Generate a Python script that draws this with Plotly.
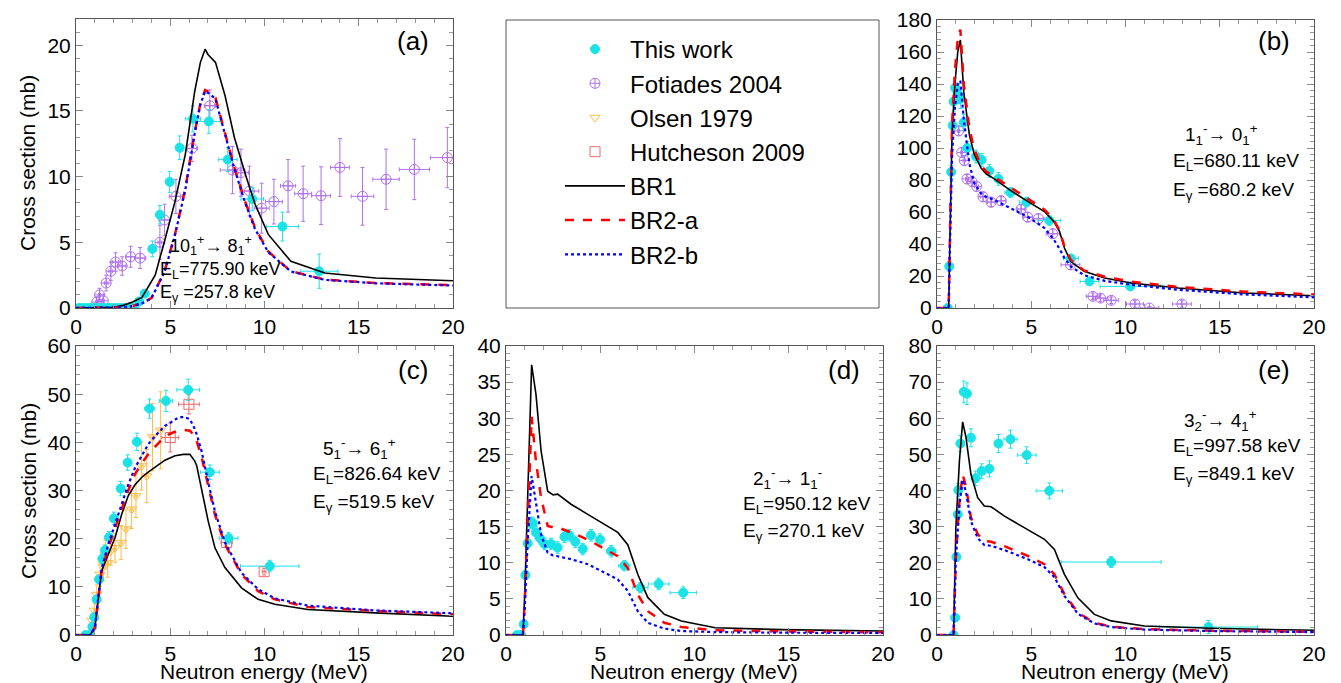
import plotly.graph_objects as go

W, H = 1341, 683

# ---------------- data ----------------
# Panel (a) 10+ -> 8+
a_tw_x = [0.15, 0.35, 0.55, 0.75, 0.95, 1.15, 1.35, 1.55, 1.75, 1.95, 2.15, 2.35, 2.55, 2.75, 2.95, 3.1,
          3.35, 3.65, 4.05, 4.45, 4.97, 5.5, 6.2, 7.05, 8.05, 9.35, 10.95, 12.9]
a_tw_y = [0, 0, 0, 0, 0, 0, 0, 0, 0, 0, 0, 0, 0, 0, 0, 0,
          0.5, 1.1, 4.5, 7.1, 9.6, 12.2, 14.4, 14.2, 11.3, 8.3, 6.2, 2.8]
a_tw_ey = [0.1, 0.1, 0.1, 0.1, 0.1, 0.1, 0.1, 0.1, 0.1, 0.1, 0.1, 0.1, 0.1, 0.1, 0.1, 0.1,
           0.3, 0.3, 0.6, 0.7, 0.8, 0.9, 1.0, 0.9, 0.9, 0.9, 1.1, 1.3]
a_tw_ex = [0.02, 0.02, 0.02, 0.02, 0.02, 0.02, 0.02, 0.02, 0.02, 0.02, 0.02, 0.02, 0.02, 0.02, 0.02, 0.02,
           0.05, 0.05, 0.08, 0.1, 0.12, 0.15, 0.4, 0.6, 0.5, 0.6, 0.85, 1.0]

a_fo_x = [1.1, 1.25, 1.45, 1.6, 1.85, 2.1, 2.45, 2.9, 3.4, 4.45, 4.7, 5.3, 6.15, 7.1, 8.3, 8.75, 9.2,
          9.85, 10.5, 11.25, 12.05, 13.0, 14.0, 15.2, 16.45, 17.95, 19.7]
a_fo_y = [0.45, 1.0, 0.55, 1.9, 2.8, 3.5, 3.2, 3.9, 3.8, 5.0, 6.7, 8.5, 12.15, 15.4, 10.5, 10.3, 8.9,
          7.6, 8.1, 9.3, 8.7, 8.55, 10.7, 8.5, 9.8, 10.55, 11.45]
a_fo_ey = [0.4, 0.5, 0.5, 0.6, 0.7, 0.7, 0.7, 0.8, 0.8, 1.3, 1.2, 1.3, 1.0, 1.2, 1.8, 1.8, 1.9,
           1.9, 1.7, 2.0, 2.1, 2.2, 2.2, 2.2, 2.3, 2.3, 2.3]
a_fo_ex = [0.05, 0.05, 0.05, 0.1, 0.1, 0.15, 0.2, 0.25, 0.3, 0.1, 0.3, 0.35, 0.3, 0.3, 0.65, 0.4, 0.5,
           0.4, 0.45, 0.4, 0.45, 0.5, 0.5, 0.6, 0.7, 0.8, 0.9]

a_br1_x = [0, 2.0, 2.5, 3.0, 3.5, 4.2, 4.7, 5.25, 5.8, 6.3, 6.6, 6.85, 7.0, 7.4, 7.9, 8.4, 9.0, 9.5,
           10.2, 11.4, 13.2, 15.9, 20]
a_br1_y = [0, 0.05, 0.2, 0.45, 0.8, 2.5, 5.1, 8.1, 11.7, 16.5, 18.7, 19.7, 19.3, 18.7, 16.2, 13.0, 10.1,
           7.9, 5.6, 3.55, 2.66, 2.28, 2.08]
a_br2_x = [0, 2.5, 3.0, 3.5, 4.0, 4.7, 5.25, 5.8, 6.3, 6.6, 6.85, 7.1, 7.4, 7.9, 8.4, 9.0, 9.5, 10.2,
           11.4, 13.2, 15.9, 20]
a_br2a_y = [0, 0.05, 0.15, 0.35, 0.76, 2.8, 5.6, 9.1, 13.4, 15.6, 16.6, 16.4, 16.0, 13.4, 10.7, 8.0, 6.1,
            4.3, 2.8, 2.16, 1.9, 1.73]
a_br2b_y = [0, 0.05, 0.15, 0.35, 0.74, 2.75, 5.55, 9.0, 13.3, 15.5, 16.5, 16.3, 15.9, 13.3, 10.6, 7.9, 6.0,
            4.25, 2.78, 2.14, 1.88, 1.71]

# Panel (b) 1- -> 0+
b_tw_x = [0.57, 0.65, 0.75, 0.83, 0.88, 0.96, 1.1, 1.24, 1.42, 1.6, 2.07, 2.37, 2.78, 3.26, 3.9, 4.76,
          5.96, 7.1, 8.09, 10.25]
b_tw_y = [0, 26, 85, 114, 129, 137.7, 134, 130.7, 116, 100, 94.7, 92.6, 85.7, 80.7, 72.2, 66.2,
          54.7, 31, 16.6, 13.5]
b_tw_ey = [1, 3, 4, 5, 6, 6, 6, 6, 5, 4, 4, 4, 4, 4, 3, 3, 3, 2, 1.5, 1.5]
b_tw_ex = [0.02, 0.02, 0.03, 0.03, 0.03, 0.04, 0.05, 0.05, 0.06, 0.08, 0.1, 0.1, 0.15, 0.2, 0.3, 0.4,
           0.6, 0.4, 0.5, 1.6]

b_fo_x = [1.15, 1.31, 1.45, 1.59, 1.86, 2.1, 2.44, 2.87, 3.4, 4.46, 4.81, 5.38, 6.14, 7.08, 8.27, 8.67,
          9.24, 10.5, 11.27, 12.99]
b_fo_y = [110.7, 97.2, 92.2, 80.7, 79, 76, 69.5, 66.2, 67, 61.8, 56.8, 55.8, 46.4, 27, 7.3, 6.2,
          4.8, 2.5, 0, 2.5]
b_fo_ey = [3, 3, 3, 3, 3, 3, 3, 3, 3, 3, 3, 3, 3, 3, 2, 2, 2, 2, 1, 2]
b_fo_ex = [0.05, 0.05, 0.07, 0.08, 0.1, 0.1, 0.15, 0.2, 0.25, 0.2, 0.25, 0.3, 0.35, 0.5, 0.35, 0.4,
           0.4, 0.45, 0.5, 0.5]

b_br_x = [0, 0.62, 0.68, 0.8, 0.95, 1.1, 1.24, 1.42, 1.72, 1.98, 2.34, 2.6, 3.04, 3.93, 4.81, 5.7,
          6.2, 6.5, 6.76, 7.1, 7.8, 8.9, 10.3, 12.8, 16.3, 20]
b_br1_y = [0, 0, 40, 110, 140, 160, 167.5, 135, 108, 96, 87.4, 83.9, 80.7, 73.2, 66.6, 60.3,
           54, 47.9, 37.5, 29, 22.9, 18.7, 15.6, 12.5, 9.4, 7.7]
b_br2a_y = [0, 0, 42, 115, 148, 168, 174, 140, 112, 99, 89, 85.5, 82, 75, 68, 61.5,
            55, 48.5, 38.5, 30, 23.5, 19.5, 16.5, 13.2, 10.2, 8.5]
b_br2b_y = [0, 0, 35, 95, 125, 140, 142, 118, 90, 78, 71.5, 69.5, 67.5, 62.4, 57, 50,
            42.7, 37, 31.2, 26, 20.5, 17, 14.5, 11.4, 8.5, 6.7]

# Panel (c) 5- -> 6+
c_tw_x = [0.51, 0.74, 0.87, 0.97, 1.1, 1.22, 1.4, 1.54, 1.75, 2.01, 2.37, 2.74, 3.23, 3.9, 4.77, 5.95,
          7.1, 8.1, 10.28]
c_tw_y = [0, 0, 1.7, 3.7, 7.4, 11.55, 15.85, 17.6, 20.3, 24.2, 30.4, 35.8, 40.1, 47, 48.6, 50.9,
          33.8, 20.1, 14.3]
c_tw_ey = [0.2, 0.2, 0.3, 0.4, 0.6, 0.8, 1.0, 1.1, 1.2, 1.3, 1.5, 1.6, 1.8, 2.0, 2.2, 2.2, 1.5, 1.2, 1.2]
c_tw_ex = [0.02, 0.02, 0.03, 0.03, 0.04, 0.05, 0.05, 0.06, 0.07, 0.08, 0.1, 0.12, 0.15, 0.25, 0.35, 0.6,
           0.5, 0.5, 1.55]

c_hu_x = [5.0, 5.99, 7.99, 9.98]
c_hu_y = [41.0, 47.9, 19.2, 13.15]
c_hu_ey = [3.0, 2.0, 1.0, 0.7]
c_hu_ex = [0.45, 0.55, 0.3, 0.1]

c_ol_x = [0.85, 0.97, 1.1, 1.27, 1.45, 1.55, 1.68, 1.85, 2.07, 2.39, 2.65, 2.95, 3.18, 3.48, 3.75,
          4.06, 4.49]
c_ol_y = [3.0, 5.1, 8.4, 12.6, 14.2, 16.7, 15.0, 17.5, 18.1, 19.2, 22, 26.1, 28.9, 35.1, 33, 41.1, 42.5]
c_ol_ey = [1, 1.5, 2, 2.5, 3, 3, 3, 3, 3, 3.5, 4, 4, 4.5, 5, 5.5, 7, 8]
c_ol_ex = [0.03, 0.03, 0.03, 0.04, 0.04, 0.04, 0.05, 0.05, 0.05, 0.06, 0.06, 0.07, 0.07, 0.08, 0.08,
           0.09, 0.1]

c_br_x = [0, 0.75, 1.0, 1.18, 1.36, 1.71, 2.07, 2.42, 2.77, 3.13, 3.48, 3.83, 4.36, 4.72, 5.25, 5.42,
          5.7, 6.04, 6.3, 6.4, 6.66, 6.84, 7.01, 7.37, 7.9, 8.78, 9.66, 10.55, 12.3, 15.85, 20]
c_br1_y = [0, 0, 1.5, 7.4, 13.3, 16.7, 20.2, 25, 28.9, 31.2, 32.7, 33.8, 35.4, 36.3, 37.2, 37.3,
           37.5, 37.5, 36.1, 35.2, 30.6, 27.0, 23.7, 18.1, 14.0, 9.8, 7.4, 6.4, 5.3, 4.6, 3.9]
c_br2a_y = [0, 0, 1.5, 7.4, 13.3, 18.1, 22, 26, 30.0, 33.4, 35.6, 37.5, 39.8, 41.3, 42.2, 42.5,
            42.6, 42.4, 41.3, 40.3, 37.0, 34.0, 31.0, 25.0, 18.8, 12.6, 9.1, 7.4, 5.8, 5.0, 4.3]
c_br2b_y = [0, 0, 1.6, 7.6, 13.8, 18.8, 23, 27.1, 31.2, 34.7, 37.3, 39.6, 42.0, 43.4, 44.7, 45.1,
            45.3, 44.8, 42.8, 41.7, 38.2, 34.7, 31.8, 25.7, 19.2, 12.9, 9.5, 7.6, 6.1, 5.1, 4.5]

# Panel (d) 2- -> 1-
d_tw_x = [0.58, 0.8, 0.94, 1.03, 1.15, 1.3, 1.42, 1.59, 1.8, 2.04, 2.39, 2.74, 3.1, 3.36, 3.68, 4.07,
          4.51, 4.99, 5.58, 6.28, 7.13, 8.1, 9.4]
d_tw_y = [0, 0, 1.5, 8.3, 12.7, 15.5, 15.5, 14.2, 13.4, 12.6, 12.6, 12.1, 13.6, 13.8, 12.9, 11.9,
          13.8, 13.2, 11.6, 9.6, 6.55, 7.06, 5.86]
d_tw_ey = [0.1, 0.1, 0.2, 0.5, 0.7, 0.8, 0.8, 0.8, 0.8, 0.8, 0.8, 0.8, 0.8, 0.8, 0.8, 0.8,
           0.8, 0.8, 0.8, 0.7, 0.7, 0.8, 0.8]
d_tw_ex = [0.02, 0.02, 0.02, 0.03, 0.03, 0.04, 0.05, 0.05, 0.06, 0.07, 0.08, 0.1, 0.1, 0.1, 0.12, 0.12,
           0.15, 0.18, 0.25, 0.3, 0.4, 0.55, 0.7]

d_br_x = [0, 0.9, 1.0, 1.15, 1.36, 1.59, 1.86, 2.21, 2.5, 2.74, 3.45, 4.34, 5.22, 5.93, 6.46, 6.99,
          7.52, 8.4, 9.3, 11.1, 14.6, 20]
d_br1_y = [0, 0, 6, 19.5, 37.4, 33.3, 25.5, 19.9, 19.4, 19.5, 18.1, 16.7, 15.3, 14.2, 12.5, 8.4,
           5.2, 2.86, 1.94, 1.0, 0.74, 0.55]
d_br2a_y = [0, 0, 5, 16, 30.2, 24, 19, 15.1, 14.9, 14.9, 14.2, 13.2, 11.9, 10.9, 9.3, 5.6,
            3.3, 1.7, 1.1, 0.65, 0.5, 0.37]
d_br2b_y = [0, 0, 4, 13, 22, 18.5, 13.9, 11.4, 11, 10.9, 10.5, 9.8, 8.6, 7.7, 6.1, 3.3,
            1.7, 0.88, 0.55, 0.4, 0.32, 0.28]

# Panel (e) 3- -> 4+
e_tw_x = [0.88, 0.96, 1.03, 1.1, 1.13, 1.24, 1.42, 1.59, 1.8, 2.05, 2.37, 2.78, 3.26, 3.9, 4.76, 5.96,
          9.24, 14.4]
e_tw_y = [0, 4.8, 21.6, 33.4, 40.1, 53, 67.3, 66.8, 54.6, 43.4, 45.4, 46, 53, 54.2, 49.8, 39.9, 20.2, 2.2]
e_tw_ey = [0.3, 0.5, 1.2, 1.5, 1.8, 2.2, 3, 3, 2.5, 2, 2, 2.2, 2.5, 2.5, 2.3, 2.2, 1.5, 1.8]
e_tw_ex = [0.02, 0.02, 0.02, 0.03, 0.03, 0.04, 0.05, 0.06, 0.07, 0.08, 0.1, 0.12, 0.15, 0.35, 0.5, 0.7,
           2.65, 2.6]

e_br_x = [0, 0.88, 1.0, 1.19, 1.36, 1.54, 1.8, 2.16, 2.51, 2.87, 3.58, 4.81, 5.7, 6.23, 6.76, 7.47,
          8.35, 9.24, 11, 14.55, 20]
e_br1_y = [0, 0, 29.7, 48.2, 59, 54.6, 44.5, 38, 35.7, 35.5, 32.9, 29.2, 26.5, 23.7, 16.8, 10.3,
           5.7, 3.9, 2.5, 1.85, 1.3]
e_br2a_y = [0, 0, 22, 37, 44.5, 41, 32.5, 27.9, 26, 25.8, 24.6, 21.9, 19.6, 16.8, 11.3, 6.2,
            3.4, 2.3, 1.6, 1.2, 0.9]
e_br2b_y = [0, 0, 21, 36, 43, 39.5, 31.5, 26.8, 24.9, 24.7, 23.5, 21, 18.8, 16, 10.8, 5.9,
            3.2, 2.2, 1.5, 1.1, 0.8]

# axis settings
x_ticks = [0, 5, 10, 15, 20]
panel_yrange = {'a': [0, 22], 'b': [0, 180], 'c': [0, 60], 'd': [0, 40], 'e': [0, 80]}
panel_ydtick = {'a': 5, 'b': 20, 'c': 10, 'd': 5, 'e': 10}
panel_yminor = {'a': 1, 'b': 4, 'c': 2, 'd': 1, 'e': 2}

# ---------------- styles ----------------
FONT = 'Liberation Sans, Arial, Helvetica, sans-serif'
C_TW = '#19e3e6'
C_FO = '#b070ec'
C_OL = '#ffbb44'
C_HU = '#f06a6a'

fig = go.Figure()

axis_of = {'a': ('x', 'y'), 'b': ('x2', 'y2'), 'c': ('x3', 'y3'), 'd': ('x4', 'y4'), 'e': ('x5', 'y5')}
shown = set()


def add_pts(panel, name, xs, ys, exs, eys, color, symbol, size, rank):
    xa, ya = axis_of[panel]
    fig.add_trace(go.Scatter(
        x=xs, y=ys, mode='markers', name=name, xaxis=xa, yaxis=ya,
        marker=dict(color=color, symbol=symbol, size=size, line=dict(color=color, width=1)),
        error_x=dict(type='data', array=exs, color=color, thickness=1, width=2),
        error_y=dict(type='data', array=eys, color=color, thickness=1, width=2),
        showlegend=name not in shown, legendgroup=name, legendrank=rank))
    shown.add(name)


def add_line(panel, name, xs, ys, color, dash, width, rank):
    xa, ya = axis_of[panel]
    fig.add_trace(go.Scatter(
        x=xs, y=ys, mode='lines', name=name, xaxis=xa, yaxis=ya,
        line=dict(color=color, dash=dash, width=width),
        showlegend=name not in shown, legendgroup=name, legendrank=rank))
    shown.add(name)


TW, FO, OL, HU = 'This work', 'Fotiades 2004', 'Olsen 1979', 'Hutcheson 2009'
B1, B2A, B2B = 'BR1', 'BR2-a', 'BR2-b'

# panel a
add_pts('a', FO, a_fo_x, a_fo_y, a_fo_ex, a_fo_ey, C_FO, 'circle-cross-open', 10, 2)
add_pts('a', TW, a_tw_x, a_tw_y, a_tw_ex, a_tw_ey, C_TW, 'circle', 9, 1)
add_line('a', B1, a_br1_x, a_br1_y, 'black', 'solid', 1.6, 5)
add_line('a', B2A, a_br2_x, a_br2a_y, '#ff0000', 'dash', 2.5, 6)
add_line('a', B2B, a_br2_x, a_br2b_y, '#0000ff', 'dot', 2.2, 7)
# panel b
add_pts('b', FO, b_fo_x, b_fo_y, b_fo_ex, b_fo_ey, C_FO, 'circle-cross-open', 10, 2)
add_pts('b', TW, b_tw_x, b_tw_y, b_tw_ex, b_tw_ey, C_TW, 'circle', 9, 1)
add_line('b', B1, b_br_x, b_br1_y, 'black', 'solid', 1.6, 5)
add_line('b', B2A, b_br_x, b_br2a_y, '#ff0000', 'dash', 2.5, 6)
add_line('b', B2B, b_br_x, b_br2b_y, '#0000ff', 'dot', 2.2, 7)
# panel c
add_pts('c', OL, c_ol_x, c_ol_y, c_ol_ex, c_ol_ey, C_OL, 'triangle-down-open', 9, 3)
add_pts('c', HU, c_hu_x, c_hu_y, c_hu_ex, c_hu_ey, C_HU, 'square-open', 10, 4)
add_pts('c', TW, c_tw_x, c_tw_y, c_tw_ex, c_tw_ey, C_TW, 'circle', 9, 1)
add_line('c', B1, c_br_x, c_br1_y, 'black', 'solid', 1.6, 5)
add_line('c', B2A, c_br_x, c_br2a_y, '#ff0000', 'dash', 2.5, 6)
add_line('c', B2B, c_br_x, c_br2b_y, '#0000ff', 'dot', 2.2, 7)
# panel d
add_pts('d', TW, d_tw_x, d_tw_y, d_tw_ex, d_tw_ey, C_TW, 'circle', 9, 1)
add_line('d', B1, d_br_x, d_br1_y, 'black', 'solid', 1.6, 5)
add_line('d', B2A, d_br_x, d_br2a_y, '#ff0000', 'dash', 2.5, 6)
add_line('d', B2B, d_br_x, d_br2b_y, '#0000ff', 'dot', 2.2, 7)
# panel e
add_pts('e', TW, e_tw_x, e_tw_y, e_tw_ex, e_tw_ey, C_TW, 'circle', 9, 1)
add_line('e', B1, e_br_x, e_br1_y, 'black', 'solid', 1.6, 5)
add_line('e', B2A, e_br_x, e_br2a_y, '#ff0000', 'dash', 2.5, 6)
add_line('e', B2B, e_br_x, e_br2b_y, '#0000ff', 'dot', 2.2, 7)


# ---------------- layout ----------------
def fx(px):
    return px / W


def fy(py):
    return 1 - py / H


dom = {
    'a': ([fx(68), fx(445)], [fy(300), fy(11)]),
    'b': ([fx(929), fx(1306)], [fy(300), fy(12)]),
    'c': ([fx(68), fx(445)], [fy(627), fy(338)]),
    'd': ([fx(498), fx(875)], [fy(627), fy(338)]),
    'e': ([fx(929), fx(1306)], [fy(627), fy(338)]),
}

tickfont = dict(family=FONT, size=21, color='black')
layout = dict(
    width=W, height=H, margin=dict(l=0, r=0, t=0, b=0),
    paper_bgcolor='white', plot_bgcolor='white',
    font=dict(family=FONT, color='black'),
    legend=dict(x=fx(552), y=fy(19), xanchor='left', yanchor='top',
                font=dict(family=FONT, size=24), bgcolor='rgba(0,0,0,0)',
                itemwidth=60, tracegroupgap=0),
)

for i, p in enumerate(['a', 'b', 'c', 'd', 'e']):
    n = '' if i == 0 else str(i + 1)
    xd, yd = dom[p]
    xa = dict(domain=xd, range=[0, 20], tickvals=x_ticks, anchor='y' + n,
              showline=True, mirror='allticks', linecolor='#555', linewidth=1,
              ticks='inside', ticklen=7, tickcolor='#888', tickwidth=1,
              minor=dict(ticks='inside', dtick=1, ticklen=4, tickcolor='#999'),
              showgrid=False, zeroline=False, tickfont=tickfont, automargin=False)
    ya = dict(domain=yd, range=panel_yrange[p], dtick=panel_ydtick[p], tick0=0, anchor='x' + n,
              showline=True, mirror='allticks', linecolor='#555', linewidth=1,
              ticks='inside', ticklen=7, tickcolor='#888', tickwidth=1,
              minor=dict(ticks='inside', dtick=panel_yminor[p], ticklen=4, tickcolor='#999'),
              showgrid=False, zeroline=False, tickfont=tickfont, automargin=False)
    layout['xaxis' + n] = xa
    layout['yaxis' + n] = ya

fig.update_layout(**layout)

# axis titles
for cx in (256, 686, 1117):
    fig.add_annotation(text='Neutron energy (MeV)', x=fx(cx), y=fy(663), xref='paper', yref='paper',
                       showarrow=False, font=dict(family=FONT, size=21), xanchor='center', yanchor='middle')
for cy in (155, 483):
    fig.add_annotation(text='Cross section (mb)', x=fx(20), y=fy(cy), xref='paper', yref='paper',
                       showarrow=False, textangle=-90, font=dict(family=FONT, size=21),
                       xanchor='center', yanchor='middle')

# legend box
fig.add_shape(type='rect', xref='paper', yref='paper', x0=fx(498), x1=fx(871), y0=fy(300), y1=fy(12),
              line=dict(color='#555', width=1), fillcolor='rgba(0,0,0,0)')

# panel labels
for lab, (px, py) in {'(a)': (405, 33), '(b)': (1266, 33), '(c)': (405, 362),
                      '(d)': (836, 362), '(e)': (1266, 362)}.items():
    fig.add_annotation(text=lab, x=fx(px), y=fy(py), xref='paper', yref='paper', showarrow=False,
                       font=dict(family=FONT, size=26), xanchor='center', yanchor='middle')

NB = '\u00a0'
# panel (a): one multi-line block (tight line spacing in the original)
fig.add_annotation(
    text=(NB * 2 + '10<sub>1</sub><sup>+</sup>→ 8<sub>1</sub><sup>+</sup><br>'
          + 'E<sub>L</sub>=775.90 keV<br>E<sub>γ</sub> =257.8 keV'),
    x=fx(150), y=fy(261), xref='paper', yref='paper', showarrow=False, align='left',
    font=dict(family=FONT, size=18), xanchor='left', yanchor='middle')

texts = [
    ('1<sub>1</sub><sup>-</sup>→ 0<sub>1</sub><sup>+</sup>', 1175, 127),
    ('E<sub>L</sub>=680.11 keV', 1163, 154),
    ('E<sub>γ</sub> =680.2 keV', 1163, 183),
    ('5<sub>1</sub><sup>-</sup>→ 6<sub>1</sub><sup>+</sup>', 313, 440),
    ('E<sub>L</sub>=826.64 keV', 303, 467),
    ('E<sub>γ</sub> =519.5 keV', 303, 495),
    ('2<sub>1</sub><sup>-</sup>→ 1<sub>1</sub><sup>-</sup>', 743, 470),
    ('E<sub>L</sub>=950.12 keV', 733, 497),
    ('E<sub>γ</sub> =270.1 keV', 733, 524),
    ('3<sub>2</sub><sup>-</sup>→ 4<sub>1</sub><sup>+</sup>', 1174, 412),
    ('E<sub>L</sub>=997.58 keV', 1163, 439),
    ('E<sub>γ</sub> =849.1 keV', 1163, 467),
]
for t, px, py in texts:
    fig.add_annotation(text=t, x=fx(px), y=fy(py), xref='paper', yref='paper', showarrow=False,
                       font=dict(family=FONT, size=19), xanchor='left', yanchor='middle')

fig.write_html('out.html')
